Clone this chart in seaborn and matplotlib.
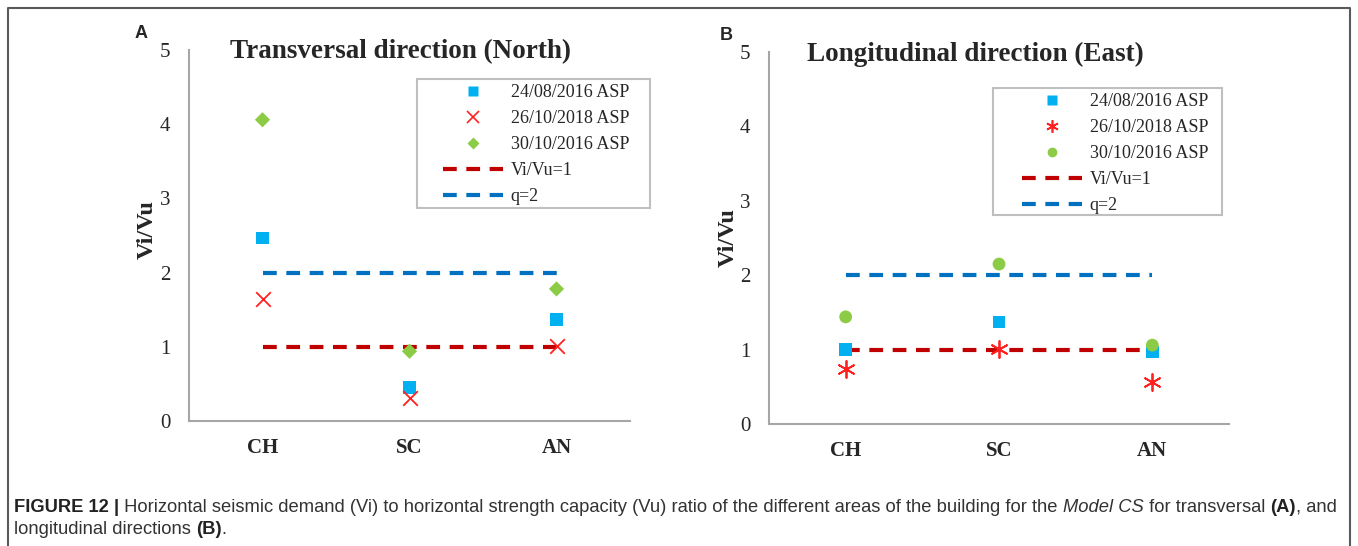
import numpy as np
import pandas as pd
import matplotlib
matplotlib.use("Agg")
import matplotlib.pyplot as plt
from matplotlib.lines import Line2D
from matplotlib.patches import Rectangle
import seaborn as sns

sns.set_style("white")
plt.rcParams.update({
    'font.family': ['Liberation Serif', 'DejaVu Serif'],
    'axes.linewidth': 1.5,
})

# ---------------- datos ----------------
zonas = ["CH", "SC", "AN"]
series = ["24/08/2016 ASP", "26/10/2018 ASP", "30/10/2016 ASP"]

# Panel A - dirección transversal (Norte)
a_0824 = [2.47, 0.45, 1.37]
a_2610 = [1.64, 0.31, 1.01]
a_3010 = [4.06, 0.94, 1.78]

# Panel B - dirección longitudinal (Este)
b_0824 = [1.00, 1.37, 0.97]
b_2610 = [0.74, 1.01, 0.56]
b_3010 = [1.44, 2.15, 1.06]

ref_vivu = [1, 1, 1]
ref_q = [2, 2, 2]

BLUE_PT = "#00B0F0"
RED_PT = "#FF2020"
GREEN_PT = "#8CCB45"
RED_LN = "#C00000"
BLUE_LN = "#0070C0"
SPINE = "#A6A6A6"
DASH = (0, (3.3, 2.3))

W, H = 1358, 546
fig = plt.figure(figsize=(W / 100, H / 100), dpi=100)


def px_axes(l, t, r, b):
    return fig.add_axes([l / W, 1 - b / H, (r - l) / W, (b - t) / H])


def panel(ax, v1, v2, v3, m2, m3, title, title_xy, ylab_x, letter, letter_px):
    sns.lineplot(x=zonas, y=ref_vivu, ax=ax, color=RED_LN, lw=3, linestyle=DASH, sort=False)
    sns.lineplot(x=zonas, y=ref_q, ax=ax, color=BLUE_LN, lw=3, linestyle=DASH, sort=False)
    sns.scatterplot(x=zonas, y=v1, ax=ax, marker="s", s=80, color=BLUE_PT, edgecolor="none", zorder=3)
    if m2 == "x":
        sns.scatterplot(x=zonas, y=v2, ax=ax, marker="x", s=110, color=RED_PT, linewidth=1.3, zorder=3)
    else:
        sns.scatterplot(x=zonas, y=v2, ax=ax, marker=(6, 2, 0), s=150, color=RED_PT,
                        linewidth=1.3, zorder=3)
    if m3 == "D":
        sns.scatterplot(x=zonas, y=v3, ax=ax, marker="D", s=60, color=GREEN_PT, edgecolor="none", zorder=3)
    else:
        sns.scatterplot(x=zonas, y=v3, ax=ax, marker="o", s=85, color=GREEN_PT, edgecolor="none", zorder=3)

    ax.set_xlim(-0.5, 2.5)
    ax.set_ylim(0, 5)
    ax.set_yticks(range(6))
    for s in ["top", "right"]:
        ax.spines[s].set_visible(False)
    for s in ["left", "bottom"]:
        ax.spines[s].set_color(SPINE)
    ax.tick_params(axis="y", length=0, pad=13.5, labelsize=15)
    ax.tick_params(axis="x", length=0, pad=12, labelsize=15)
    for lbl in ax.get_xticklabels():
        lbl.set_fontweight("bold")
    ax.set_xlabel("")
    ax.set_ylabel("Vi/Vu", fontsize=17.5, fontweight="bold")
    ax.yaxis.set_label_coords(ylab_x[0], ylab_x[1])
    fig.text(title_xy[0] / W, 1 - title_xy[1] / H, title, ha="center", va="center",
             fontsize=19.5, fontweight="bold")
    fig.text(letter_px[0] / W, 1 - letter_px[1] / H, letter, fontsize=13, fontweight="bold",
             family=["Liberation Sans", "DejaVu Sans"], ha="center", va="center")

    handles = [
        Line2D([], [], ls="none", marker="s", ms=7, color=BLUE_PT, mec="none"),
        Line2D([], [], ls="none", marker=("x" if m2 == "x" else (6, 2, 0)), ms=9, color=RED_PT, mew=1.2),
        Line2D([], [], ls="none", marker=m3, ms=(6 if m3 == "D" else 7), color=GREEN_PT, mec="none"),
        Line2D([], [], color=RED_LN, lw=3, linestyle=DASH),
        Line2D([], [], color=BLUE_LN, lw=3, linestyle=DASH),
    ]
    labels = series + ["Vi/Vu=1", "q=2"]
    return handles, labels


def legend_box(ax, handles, labels, anchor, box):
    ax.legend(handles, labels, loc="upper left", bbox_to_anchor=(anchor[0] / W, 1 - anchor[1] / H),
              bbox_transform=fig.transFigure, fontsize=13, frameon=False,
              handlelength=3.3, handletextpad=0.45, labelspacing=0.5,
              borderpad=0, borderaxespad=0)
    l, t, r, b = box
    fig.add_artist(Rectangle((l / W, 1 - b / H), (r - l) / W, (b - t) / H, transform=fig.transFigure,
                             fill=False, edgecolor="#BFBFBF", lw=1.5))


ax_a = px_axes(189, 50, 630, 421)
h, l = panel(ax_a, a_0824, a_2610, a_3010, "x", "D",
             "Transversal direction (North)", (400, 52), (-0.072, 0.515), "A", (141, 33))
legend_box(ax_a, h, l, (443, 84), (417, 79, 650, 208))

ax_b = px_axes(769, 52, 1229, 424)
h, l = panel(ax_b, b_0824, b_2610, b_3010, "*", "o",
             "Longitudinal direction (East)", (975, 54), (-0.066, 0.5), "B", (726, 35))
legend_box(ax_b, h, l, (1022, 93), (993, 88, 1222, 215))

# marco exterior (abierto abajo)
fig.add_artist(Line2D([8 / W, 8 / W, 1350 / W, 1350 / W], [0, 1 - 8 / H, 1 - 8 / H, 0],
                      transform=fig.transFigure, color="#5A5A5A", lw=1.5))

# pie de figura con estilos mezclados
renderer = fig.canvas.get_renderer()
cap_fam = ["Liberation Sans", "DejaVu Sans"]
cap_size = 13.25


def rich_line(x_px, y_px, parts):
    x = x_px / W
    for txt, kw in parts:
        opts = dict(fontsize=cap_size, family=cap_fam, color="#333333", ha="left", va="center")
        opts.update(kw)
        t = fig.text(x, 1 - y_px / H, txt, **opts)
        bb = t.get_window_extent(renderer)
        x = bb.x1 / W


rich_line(14, 507, [
    ("FIGURE 12 |", dict(fontweight="bold", color="#222222")),
    (" Horizontal seismic demand (Vi) to horizontal strength capacity (Vu) ratio of the different areas of the building for the ", {}),
    ("Model CS", dict(style="italic")),
    (" for transversal ", {}),
    ("(A)", dict(fontweight="bold", color="#222222")),
    (", and", {}),
])
rich_line(14, 530, [
    ("longitudinal directions ", {}),
    ("(B)", dict(fontweight="bold", color="#222222")),
    (".", {}),
])

fig.savefig("out.png", dpi=100)
